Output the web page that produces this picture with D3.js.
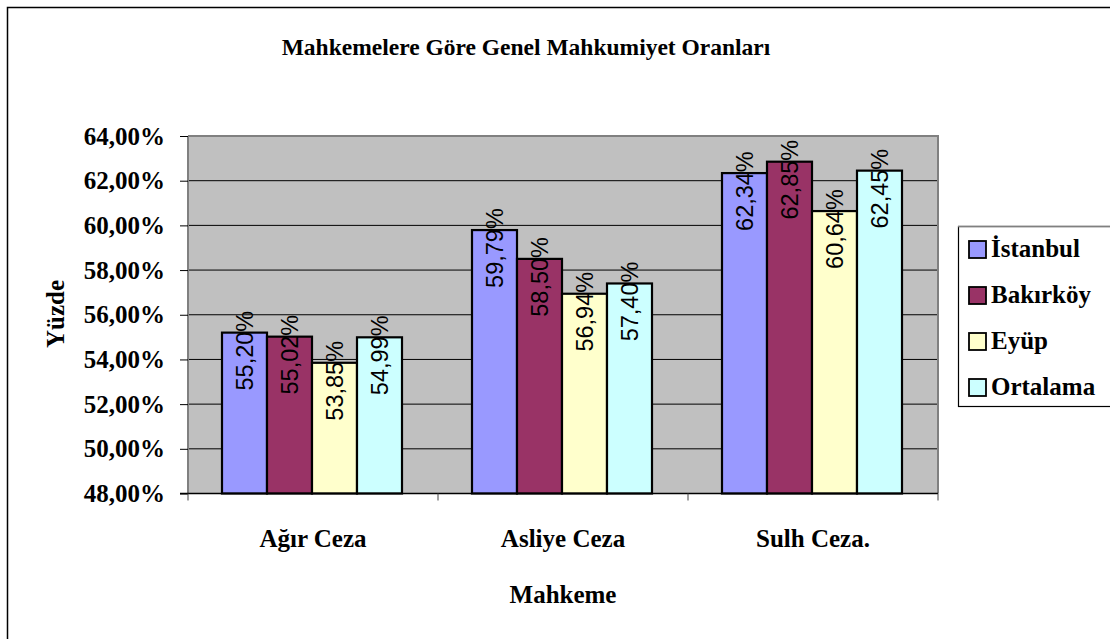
<!DOCTYPE html>
<html><head><meta charset="utf-8">
<script src="https://cdn.jsdelivr.net/npm/d3@7"></script>
<style>
html,body{margin:0;padding:0;background:#fff;overflow:hidden}
svg text{font-family:"Liberation Serif","Times New Roman",serif;font-weight:bold;fill:#000}
svg text.val{font-family:"Liberation Sans",Arial,sans-serif;font-weight:normal}
</style>
</head><body>
<svg id="c" width="1110" height="639"></svg>
<script>
const categories = ["Ağır Ceza", "Asliye Ceza", "Sulh Ceza."];
const seriesNames = ["İstanbul", "Bakırköy", "Eyüp", "Ortalama"];
const istanbul = [55.20, 59.79, 62.34];
const bakirkoy = [55.02, 58.50, 62.85];
const eyup = [53.85, 56.94, 60.64];
const ortalama = [54.99, 57.40, 62.45];
const yTicks = [48, 50, 52, 54, 56, 58, 60, 62, 64];
const colors = ["#9999FF", "#993366", "#FFFFCC", "#CCFFFF"];

const seriesValues = [istanbul, bakirkoy, eyup, ortalama];
const fmt = v => v.toFixed(2).replace(".", ",") + "%";

const svg = d3.select("#c");
const L = 188, R = 938, T = 136, B = 493.5;

// outer chart border
svg.append("rect").attr("x", 7.5).attr("y", 7.5).attr("width", 1200).attr("height", 800)
  .attr("fill", "#fff").attr("stroke", "#000").attr("stroke-width", 1.5);

svg.append("text").attr("x", 526).attr("y", 55).attr("text-anchor", "middle")
  .style("font-size", "23.5px").text("Mahkemelere Göre Genel Mahkumiyet Oranları");

const x0 = d3.scaleBand().domain(categories).range([L, R]).paddingInner(0).paddingOuter(0);
const x1 = d3.scaleBand().domain(seriesNames).range([34, 34 + 180]);
const y = d3.scaleLinear().domain([48, 64]).range([B, T]);

// plot background
svg.append("rect").attr("x", L).attr("y", T).attr("width", R - L).attr("height", B - T)
  .attr("fill", "#C0C0C0");

// gridlines
svg.append("g").selectAll("line").data(yTicks.slice(1)).join("line")
  .attr("x1", L).attr("x2", R).attr("y1", d => y(d)).attr("y2", d => y(d))
  .attr("stroke", "#000").attr("stroke-width", 1);

// plot border (top/right gray)
svg.append("path").attr("d", `M${L},${T}H${R}V${B}`).attr("fill", "none")
  .attr("stroke", "#808080").attr("stroke-width", 2);

// bars
const groups = svg.append("g").selectAll("g").data(categories).join("g")
  .attr("transform", d => `translate(${x0(d)},0)`);
groups.each(function(cat, ci) {
  const g = d3.select(this);
  seriesNames.forEach((s, si) => {
    const v = seriesValues[si][ci];
    g.append("rect").attr("x", x1(s)).attr("y", y(v)).attr("width", x1.bandwidth())
      .attr("height", B - y(v)).attr("fill", colors[si]).attr("stroke", "#000").attr("stroke-width", 2.2);
  });
});
groups.each(function(cat, ci) {
  const g = d3.select(this);
  seriesNames.forEach((s, si) => {
    const v = seriesValues[si][ci];
    const cx = x1(s) + x1.bandwidth() / 2, cy = y(v) + 18;
    g.append("text").attr("class", "val").attr("transform", `translate(${cx},${cy}) rotate(-90)`)
      .attr("text-anchor", "middle").attr("dominant-baseline", "central")
      .style("font-size", "23.5px").text(fmt(v));
  });
});

// y axis
const yAxis = d3.axisLeft(y).tickValues(yTicks).tickSize(8).tickPadding(15).tickFormat(d => d.toFixed(2).replace(".", ",") + "%");
const ya = svg.append("g").attr("transform", `translate(${L},0)`).call(yAxis);
ya.select(".domain").attr("stroke", "#808080").attr("stroke-width", 2).attr("d", `M0,${T}V${B}`);
ya.selectAll(".tick line").attr("stroke", "#000");
ya.selectAll(".tick text").style("font-size", "25px").style("font-family", '"Liberation Serif",serif').style("font-weight", "bold").attr("fill", "#000");

// x axis
svg.append("line").attr("x1", L - 8).attr("x2", R).attr("y1", B).attr("y2", B).attr("stroke", "#000").attr("stroke-width", 1.5);
const xTickPos = categories.map(c => x0(c)).concat([R]);
svg.append("g").selectAll("line").data(xTickPos).join("line")
  .attr("x1", d => d).attr("x2", d => d).attr("y1", B).attr("y2", B + 7).attr("stroke", "#444");
svg.append("g").selectAll("text").data(categories).join("text")
  .attr("x", d => x0(d) + x0.bandwidth() / 2).attr("y", 547).attr("text-anchor", "middle")
  .style("font-size", "25px").text(d => d);

// axis titles
svg.append("text").attr("x", 563).attr("y", 603).attr("text-anchor", "middle")
  .style("font-size", "25px").text("Mahkeme");
svg.append("text").attr("transform", "translate(64,314) rotate(-90)").attr("text-anchor", "middle")
  .style("font-size", "25px").text("Yüzde");

// legend
const lg = svg.append("g");
lg.append("rect").attr("x", 958.5).attr("y", 226.5).attr("width", 200).attr("height", 180)
  .attr("fill", "#fff").attr("stroke", "#000").attr("stroke-width", 1.2);
lg.append("line").attr("x1", 958).attr("x2", 1110).attr("y1", 226.5).attr("y2", 226.5).attr("stroke", "#808080").attr("stroke-width", 1.5);
const items = lg.selectAll("g.it").data(seriesNames).join("g").attr("class", "it")
  .attr("transform", (d, i) => `translate(0,${250 + i * 46})`);
items.append("rect").attr("x", 969).attr("y", -9).attr("width", 17).attr("height", 17)
  .attr("fill", (d, i) => colors[i]).attr("stroke", "#000").attr("stroke-width", 1.8);
items.append("text").attr("x", 991).attr("y", 7).style("font-size", "25px").text(d => d);
</script>
</body></html>
